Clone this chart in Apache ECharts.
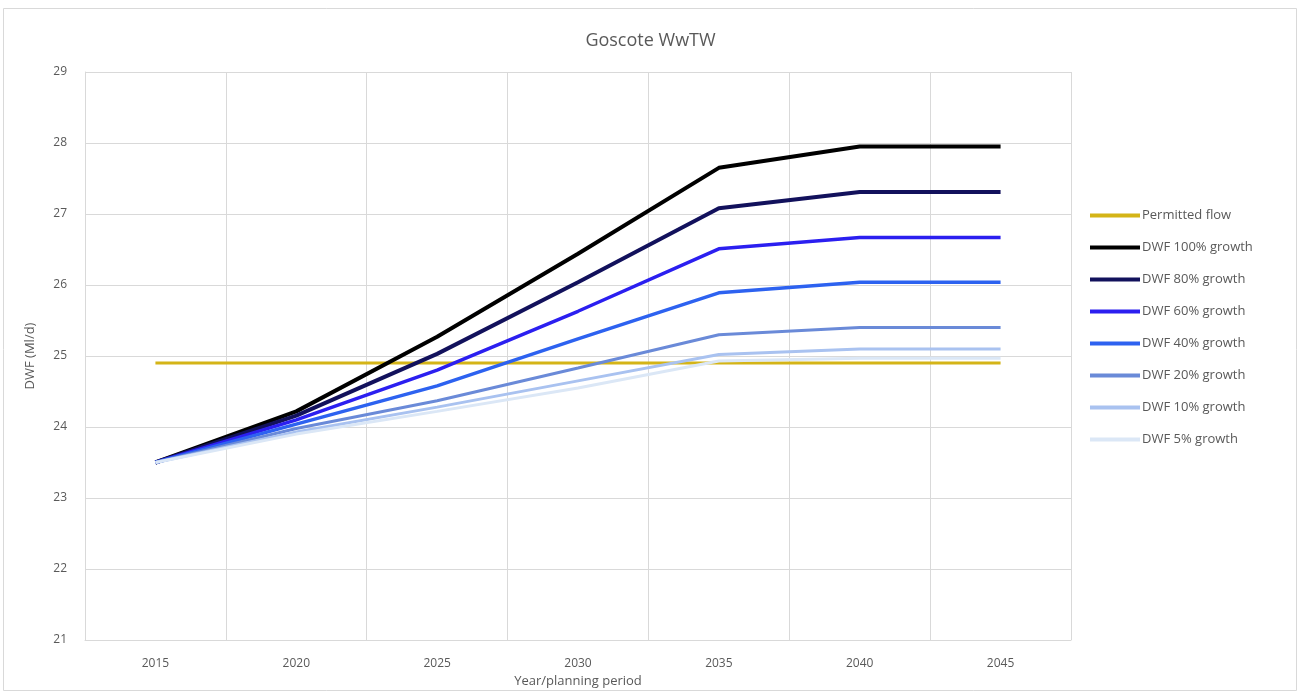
<!DOCTYPE html>
<html>
<head>
<meta charset="utf-8">
<script src="https://cdn.jsdelivr.net/npm/echarts@6/dist/echarts.min.js"></script>
<style>
html,body{margin:0;padding:0;background:#fff;}
#chart{width:1301px;height:693px;}
</style>
</head>
<body>
<div id="chart"></div>
<script>
const years = ['2015','2020','2025','2030','2035','2040','2045'];
const permittedFlow = [24.9, 24.9, 24.9, 24.9, 24.9, 24.9, 24.9];
const dwf100 = [23.5, 24.22, 25.27, 26.44, 27.65, 27.95, 27.95];
const dwf80  = [23.5, 24.16, 25.03, 26.04, 27.08, 27.31, 27.31];
const dwf60  = [23.5, 24.1, 24.8, 25.63, 26.51, 26.67, 26.67];
const dwf40  = [23.5, 24.04, 24.58, 25.24, 25.89, 26.04, 26.04];
const dwf20  = [23.5, 23.98, 24.37, 24.83, 25.3, 25.4, 25.4];
const dwf10  = [23.5, 23.93, 24.28, 24.65, 25.02, 25.1, 25.1];
const dwf5   = [23.5, 23.9, 24.22, 24.55, 24.93, 24.97, 24.97];
const yTicks = { min: 21, max: 29, interval: 1 };

const seriesDefs = [
  { name: 'Permitted flow', data: permittedFlow, color: '#d4b417', width: 3 },
  { name: 'DWF 100% growth', data: dwf100, color: '#000000', width: 4 },
  { name: 'DWF 80% growth', data: dwf80, color: '#12115c', width: 4 },
  { name: 'DWF 60% growth', data: dwf60, color: '#2b1ff0', width: 3.5 },
  { name: 'DWF 40% growth', data: dwf40, color: '#2d62f0', width: 3.5 },
  { name: 'DWF 20% growth', data: dwf20, color: '#6a8ad8', width: 3 },
  { name: 'DWF 10% growth', data: dwf10, color: '#a9c2f0', width: 3 },
  { name: 'DWF 5% growth', data: dwf5, color: '#dbe7f6', width: 3 }
];

const chart = echarts.init(document.getElementById('chart'), null, { renderer: 'canvas' });
const txt = '#595959';
const fontFam = '"Open Sans", "Liberation Sans", sans-serif';
chart.setOption({
  backgroundColor: '#ffffff',
  animation: false,
  title: {
    text: 'Goscote WwTW',
    left: 'center',
    top: 27,
    textStyle: { color: txt, fontSize: 18, fontWeight: 'normal', fontFamily: fontFam }
  },
  graphic: [{
    type: 'rect',
    shape: { x: 3.5, y: 8.5, width: 1293, height: 682 },
    style: { fill: 'none', stroke: '#d9d9d9', lineWidth: 1 },
    silent: true
  }],
  legend: {
    orient: 'vertical',
    left: 1085,
    top: 204,
    itemWidth: 50,
    itemHeight: 4,
    itemGap: 19,
    icon: 'rect',
    textStyle: { color: txt, fontSize: 13, fontFamily: fontFam, padding: [0, 0, 0, -3] },
    data: seriesDefs.map(s => ({ name: s.name, icon: 'rect' }))
  },
  grid: { left: 85, right: 230, top: 72, bottom: 53, containLabel: false },
  xAxis: {
    type: 'category',
    data: years,
    boundaryGap: true,
    name: 'Year/planning period',
    nameLocation: 'middle',
    nameGap: 29,
    nameTextStyle: { color: txt, fontSize: 13, fontFamily: fontFam },
    axisLine: { lineStyle: { color: '#d9d9d9' } },
    axisTick: { show: false },
    axisLabel: { color: txt, fontSize: 12, fontFamily: fontFam, margin: 18 },
    splitLine: { show: true, lineStyle: { color: '#d9d9d9' } }
  },
  yAxis: {
    type: 'value',
    min: yTicks.min,
    max: yTicks.max,
    interval: yTicks.interval,
    name: 'DWF (Ml/d)',
    nameLocation: 'middle',
    nameGap: 48,
    nameTextStyle: { color: txt, fontSize: 13, fontFamily: fontFam },
    axisLine: { show: true, lineStyle: { color: '#d9d9d9' } },
    axisTick: { show: false },
    axisLabel: { color: txt, fontSize: 12, fontFamily: fontFam, margin: 18 },
    splitLine: { show: true, lineStyle: { color: '#d9d9d9' } }
  },
  series: seriesDefs.map(s => ({
    name: s.name,
    type: 'line',
    data: s.data,
    symbol: 'none',
    color: s.color,
    lineStyle: { color: s.color, width: s.width },
    z: 2
  }))
});
</script>
</body>
</html>
